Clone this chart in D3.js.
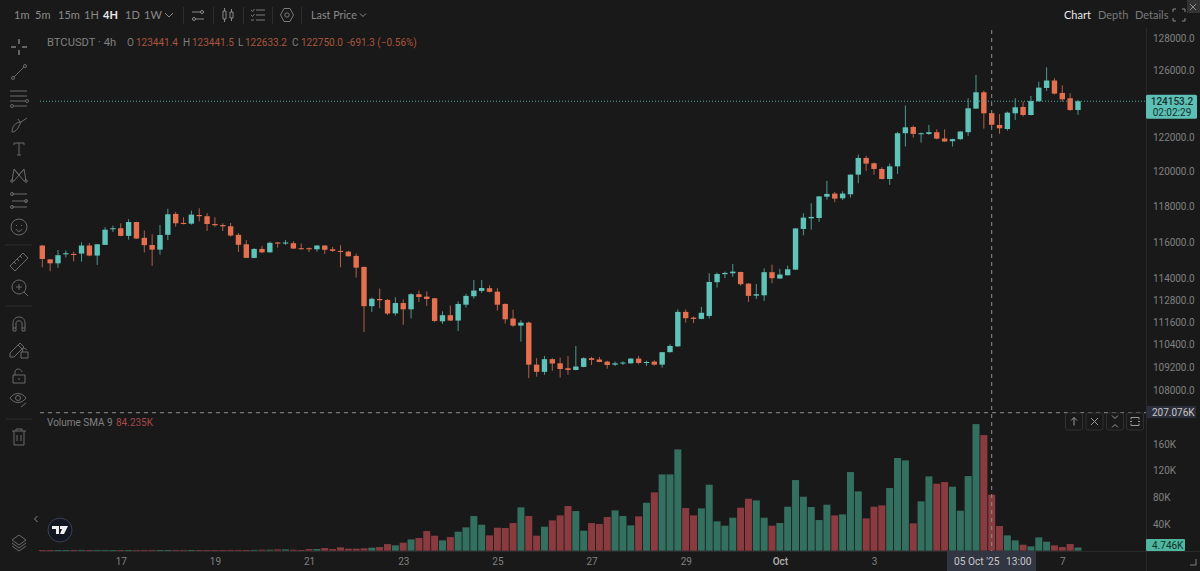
<!DOCTYPE html>
<html>
<head>
<meta charset="utf-8">
<script src="https://cdnjs.cloudflare.com/ajax/libs/d3/7.8.5/d3.min.js"></script>
<style>
  html, body { margin: 0; padding: 0; background: #191919; overflow: hidden; }
  svg { display: block; font-family: Roboto, sans-serif; }
</style>
</head>
<body>
<div id="chart"></div>
<script>
// 4h candles, one per index
var opens = [115800,115030,114810,115310,115330,115350,115800,115240,115835,116710,116770,116340,117120,116230,115830,115570,116400,117580,117070,117030,117520,117450,117010,116950,116880,116400,115870,115110,115610,115420,115970,115910,115930,115650,115650,115590,115800,115590,115500,115460,115220,114610,112460,112850,112800,112070,112630,112290,113110,112980,112890,111640,111970,111680,112540,113000,113290,113440,113250,112580,111790,111410,111570,109330,108950,109620,109400,109140,109050,109210,109670,109600,109490,109330,109390,109400,109650,109420,109490,109330,109990,110300,112150,111840,111770,111930,113770,114210,114260,114330,113690,113030,113050,114320,113970,114150,114460,116730,117330,117350,118560,118740,118470,118700,119830,120800,120490,120160,119580,120310,122250,122620,122190,122210,122310,121940,121780,121900,122310,123710,124690,123441.4,122740,122500,123430,123810,123330,124150,124950,125400,124650,124330,123630];
var highs = [115830,115050,115550,115520,115460,115980,115930,115880,116830,116920,117050,117280,117140,116640,116430,116960,117870,117690,117390,117770,117900,117620,117390,117050,117070,116490,116100,115650,115780,116020,116000,116110,116040,115910,115690,115820,115820,115720,115820,115500,115350,114630,112930,113420,112850,112940,112830,113160,113310,113270,112910,112180,112490,112720,113130,113890,113890,113600,113440,112610,112270,111700,111630,109670,109790,109670,109700,109790,110320,109720,109740,109740,109540,109490,109510,109670,109790,109540,109560,110000,110410,112290,112290,111900,112420,114260,114300,114350,114770,114350,113710,113670,114530,114740,114500,114680,116770,117620,118190,118600,119470,118830,118870,119850,121000,120920,120530,120260,120470,122320,123890,122700,122290,122740,122480,122480,121930,122370,124330,125740,124790,123441.5,123390,123530,124330,124130,124470,125330,126200,125540,125110,124630,124230];
var lows = [114590,114370,114560,115140,114920,114900,115200,114720,115830,116560,116320,116130,116170,115420,114670,115290,116100,116860,116990,116970,117160,116620,116860,116620,116300,115440,115100,115090,115370,115400,115680,115830,115610,115570,115440,115460,115330,115440,114590,115180,114020,111070,112150,112340,111980,111950,111450,111800,112690,112470,111590,111500,111660,111120,112380,112870,113180,113200,112220,111520,111340,110550,108620,108700,108800,109000,108650,108800,109030,109190,109310,109460,109120,109260,109310,109380,109350,109260,109280,109170,109970,110270,111570,111540,111750,111800,113470,113990,114060,113580,112690,112850,112740,113710,113960,114130,114440,116370,116690,117130,118390,118240,118370,118510,119330,120050,119830,119560,119240,119870,121470,121990,121700,122150,121890,121740,121470,121860,122090,123700,122520,122633.2,122210,122400,123040,123240,123310,124130,124770,124550,124130,123570,123340];
var closes = [115050,114810,115260,115370,115270,115800,115240,115870,116690,116770,116340,117120,116190,115820,115570,116390,117560,117050,117010,117540,117450,117010,116940,116880,116360,115840,115110,115610,115420,115950,115910,115970,115630,115610,115590,115800,115560,115500,115440,115200,114570,112460,112860,112780,112060,112630,112290,113110,112960,112850,111660,111970,111680,112580,113020,113310,113450,113240,112540,111750,111410,111570,109330,108950,109620,109390,109100,109050,109230,109670,109580,109470,109310,109400,109440,109650,109420,109470,109330,109990,110320,112150,111810,111770,112100,113780,114220,114280,114350,113660,113020,113110,114320,113990,114190,114480,116760,117370,117410,118580,118720,118450,118740,119830,120800,120470,120160,119580,120310,122250,122600,122210,122250,122310,121930,121760,121900,122350,123730,124690,123430,122750,122540,123470,123790,123330,124170,124970,125400,124610,124270,123630,124153.2];
// volume in thousands
var volumes = [1,1,1,0.8,1,1.2,1,1.2,1.2,1,1,0.8,1.2,1.2,1.2,1,1,1.2,1.2,1,1,1,1,1,1.2,1.2,1,1.2,1.5,1.5,2,2,1.5,0.8,2.5,2.5,4,2.5,5,3,3,3.5,4.5,5.5,10,8,12,17,19,29.5,22.5,15.5,20.5,28.5,35,52,39,23,34.5,34,41.5,65,52,22.5,36,45.5,53,67,59.5,30,41.5,40,50.5,60.5,52,38,51.5,72,87.5,114.5,114.5,152,64,53,63.5,99,44,37.5,49.5,64.5,78,75.5,49.5,37.5,41.5,66,106,81,65.5,46,69,53,54.5,118,89,48.5,66,68,94,139,135.5,41,74,111.5,100.5,103,96,60,112,190,173.5,84,37,23,15.5,9,6.5,20,13.5,8,5.5,10,4.746];

var priceTicks = [128000,126000,122000,120000,118000,116000,114000,112800,111600,110400,109200,108000];
var volumeTicks = [40,80,120,160];
var timeTickIndex = [10,22,34,46,58,70,82,94,106,130];
var timeTickLabels = ['17','19','21','23','25','27','29','Oct','3','7'];
var intervals = ['1m','5m','15m','1H','4H','1D','1W'];
var intervalX = [14,35,58,84,103,125,144];

var lastPrice = 124153.2, crossIndex = 121, crossVolume = 207.076;

var W = 1200, H = 571;
var UP = '#5fc3b9', DOWN = '#e4704f', UPVOL = '#34705f', DOWNVOL = '#8a3b40';
var GREY = '#808080', ICON = '#6a6a6a', MENU = 'Lato, sans-serif';

var svg = d3.select('#chart').append('svg').attr('width', W).attr('height', H);
svg.append('rect').attr('width', W).attr('height', H).attr('fill', '#191919');

// scales
var x = d3.scaleLinear().domain([0, 132]).range([42.3, 1078]);
var y = d3.scaleLog().domain([108000, 128000]).range([390, 38]);
var yVol = d3.scaleLinear().domain([0, crossVolume]).range([550.7, 412.7]);

var idx = d3.range(closes.length);

// volume pane
svg.append('g').selectAll('rect').data(idx).enter().append('rect')
  .attr('x', function (i) { return x(i) - 3.5; })
  .attr('width', 7)
  .attr('y', function (i) { return yVol(volumes[i]); })
  .attr('height', function (i) { return Math.max(0.8, yVol(0) - yVol(volumes[i])); })
  .attr('fill', function (i) { return closes[i] >= opens[i] ? UPVOL : DOWNVOL; });

// wicks then bodies
svg.append('g').selectAll('line').data(idx).enter().append('line')
  .attr('x1', function (i) { return x(i); })
  .attr('x2', function (i) { return x(i); })
  .attr('y1', function (i) { return y(highs[i]); })
  .attr('y2', function (i) { return y(lows[i]); })
  .attr('stroke', function (i) { return closes[i] >= opens[i] ? '#4b9a92' : '#b0604a'; })
  .attr('stroke-width', 1);

svg.append('g').selectAll('rect').data(idx).enter().append('rect')
  .attr('x', function (i) { return x(i) - 2.7; })
  .attr('width', 5.4)
  .attr('y', function (i) { return y(Math.max(opens[i], closes[i])); })
  .attr('height', function (i) { return Math.max(1, Math.abs(y(opens[i]) - y(closes[i]))); })
  .attr('fill', function (i) { return closes[i] >= opens[i] ? UP : DOWN; });

// frame lines
svg.append('line').attr('x1', 1146.5).attr('x2', 1146.5).attr('y1', 28).attr('y2', H).attr('stroke', '#2a2a2a');
svg.append('line').attr('x1', 40).attr('x2', W).attr('y1', 551.5).attr('y2', 551.5).attr('stroke', '#2a2a2a');

// last price and crosshair
svg.append('line').attr('x1', 40).attr('x2', 1146).attr('y1', y(lastPrice)).attr('y2', y(lastPrice))
  .attr('stroke', '#4fa69e').attr('stroke-dasharray', '1,2');
svg.append('line').attr('x1', x(crossIndex)).attr('x2', x(crossIndex)).attr('y1', 30).attr('y2', 551)
  .attr('stroke', '#8f8f8f').attr('stroke-dasharray', '4,4');
svg.append('line').attr('x1', 40).attr('x2', 1146).attr('y1', yVol(crossVolume)).attr('y2', yVol(crossVolume))
  .attr('stroke', '#8f8f8f').attr('stroke-dasharray', '4,4');

// axes
function styleAxis(g) {
  g.select('.domain').remove();
  g.selectAll('text').attr('fill', GREY).style('font-size', '10px').style('font-family', 'Roboto, sans-serif').style('letter-spacing', '-0.05px');
}
svg.append('g').attr('transform', 'translate(1147,0)')
  .call(d3.axisRight(y).tickValues(priceTicks).tickSize(0).tickPadding(6).tickFormat(function (d) { return d3.format('.1f')(d); }))
  .call(styleAxis);
svg.append('g').attr('transform', 'translate(1147,0)')
  .call(d3.axisRight(yVol).tickValues(volumeTicks).tickSize(0).tickPadding(6).tickFormat(function (d) { return d + 'K'; }))
  .call(styleAxis);
svg.append('g').attr('transform', 'translate(0,551)')
  .call(d3.axisBottom(x).tickValues(timeTickIndex).tickSize(0).tickPadding(7).tickFormat(function (d, i) { return timeTickLabels[i]; }))
  .call(styleAxis)
  .selectAll('text').filter(function (d, i) { return timeTickLabels[i] == 'Oct'; })
  .attr('fill', '#a8a8a8').style('font-weight', 600);

function txt(s, px, py, fill, size, weight, anchor, family) {
  return svg.append('text').attr('x', px).attr('y', py).attr('fill', fill)
    .style('font-size', (size || 10) + 'px').style('font-weight', weight || 400)
    .style('font-family', family || 'Roboto, sans-serif')
    .attr('text-anchor', anchor || 'start').text(s);
}

// price + volume flags
svg.append('rect').attr('x', 1146).attr('y', y(lastPrice) - 6.5).attr('width', 51).attr('height', 24).attr('rx', 1.5).attr('fill', '#5cc0b5');
txt('124153.2', 1172, y(lastPrice) + 3.5, '#14302d', 10, 500, 'middle');
txt('02:02:29', 1172, y(lastPrice) + 14.5, '#14302d', 10, 400, 'middle');
svg.append('rect').attr('x', 1147).attr('y', 406).attr('width', 49).attr('height', 12).attr('fill', '#2c2e3a');
txt('207.076K', 1152, 416, '#c8c8c8', 10);
svg.append('rect').attr('x', 1146).attr('y', 539).attr('width', 39).attr('height', 12).attr('rx', 1).attr('fill', '#4fb7a0');
txt('4.746K', 1152, 548.5, '#123029', 10);
svg.append('rect').attr('x', 947).attr('y', 551).attr('width', 89).attr('height', 20).attr('fill', '#323542');
txt("05 Oct '25", 954, 565, '#c8c8c8', 10.2);
txt('13:00', 1006, 565, '#c8c8c8', 10.2);

// legend lines
txt('BTCUSDT · 4h', 47, 45.5, GREY, 11.2);
var ohlcLabels = ['O', 'H', 'L', 'C'];
var ohlcValues = ['123441.4', '123441.5', '122633.2', '122750.0'];
var legendX = [127, 183, 238, 292];
var legendRed = '#a9543f';
ohlcLabels.forEach(function (l, i) {
  txt(l, legendX[i], 46, GREY, 10);
  txt(ohlcValues[i], legendX[i] + (l == 'L' ? 7 : 9), 46, legendRed, 10);
});
txt('-691.3 (−0.56%)', 347, 46, legendRed, 10);
txt('Volume SMA 9', 47, 426, GREY, 10);
txt('84.235K', 116, 426, '#a9474a', 10);

// top toolbar
intervals.forEach(function (s, i) {
  txt(s, intervalX[i], 19, s == '4H' ? '#e8e8e8' : '#8a8a8a', 11, s == '4H' ? 700 : 400, 'start', MENU);
});
txt('Last Price', 311, 19, '#8a8a8a', 10.8, 400, 'start', MENU);
txt('Chart', 1064, 19, '#e8e8e8', 11, 400, 'start', MENU);
txt('Depth', 1098, 19, '#7a7a7a', 11, 400, 'start', MENU);
txt('Details', 1135, 19, '#7a7a7a', 11, 400, 'start', MENU);
[183.5, 213.5, 243.5, 272.5, 301.5].forEach(function (sx) {
  svg.append('line').attr('x1', sx).attr('x2', sx).attr('y1', 7).attr('y2', 24).attr('stroke', '#2f2f2f');
});

// hand drawn icons, centred on their own 0,0
function icon(cx, cy, d, col) {
  svg.append('path').attr('transform', 'translate(' + cx + ',' + cy + ')').attr('d', d)
    .attr('fill', 'none').attr('stroke', col || ICON).attr('stroke-width', 1);
}
function circ(r, cx, cy) {
  cx = cx || 0; cy = cy || 0;
  return 'M' + (cx - r) + ',' + cy + 'a' + r + ',' + r + ' 0 1,0 ' + (2 * r) + ',0a' + r + ',' + r + ' 0 1,0 ' + (-2 * r) + ',0';
}
icon(169, 15, 'M-4,-2L0,2L4,-2', '#8a8a8a');
icon(363, 15, 'M-3,-1.5L0,1.5L3,-1.5', '#8a8a8a');
icon(198, 15, 'M-6,-3H3M5,-3H6M-3,4H6M-6,4H-5' + circ(1.5, 4, -3) + circ(1.5, -4, 4), '#8a8a8a');
icon(228, 15, 'M-5,-4h3v8h-3zM-3.5,-7v3M-3.5,4v3M2,-3h3v6h-3zM3.5,-6v3M3.5,3v3', '#8a8a8a');
icon(258, 15, 'M-2,-5H7M-2,0H7M-2,5H7M-7,-5l1.5,1.5l2,-2.5M-7,0l1.5,1.5l2,-2.5M-7,5h3', '#7a7a7a');
icon(287, 15, 'M-3,-6.5L3,-6.5L6.5,0L3,6.5L-3,6.5L-6.5,0Z' + circ(2.2), '#7a7a7a');
icon(1179, 15, 'M-6,-3v-3h3M3,-6h3v3M6,3v3h-3M-3,6h-3v-3', '#8a8a8a');

// close box in the corner
svg.append('rect').attr('x', 1187).attr('y', 0).attr('width', 13).attr('height', 13).attr('fill', '#333333');
icon(1193, 7, 'M-3,-3L3,3M3,-3L-3,3', '#8a8a8a');

// left drawing tools
icon(19, 47, 'M-8,0H-3M3,0H8M0,-8V-3M0,3V8', '#b0b0b0');
icon(19, 72, 'M-5,5L5,-5' + circ(1.5, -6, 6) + circ(1.5, 6, -6));
icon(19, 98, 'M-9,-7H8M-9,-2H8M-9,3H6M-5,8H8' + circ(1.5, 8, 3) + circ(1.5, -7, 8));
icon(19, 125, 'M-7,7C-7,1 -3,-3 2,-3L-1,3C-3,6 -5,7 -7,7ZM2,-3L8,-7M-1,-6L1,-3');
icon(19, 149, 'M-5,-6H5M-5,-6V-4M5,-6V-4M0,-6V6M-2,6H2');
icon(19, 175, 'M-7,6L-5,-6L0,0L5,-6L7,6M-5,-6L5,6M5,-6L-5,6' + circ(1.3, -7, 6) + circ(1.3, 7, 6));
icon(19, 201, 'M-7,-7H8M-7,0H8M-7,6H8' + circ(1.5, -7, -7) + circ(1.5, 7, 0) + circ(1.5, -7, 6));
icon(19, 227, circ(8) + 'M-3,2C-2,5 2,5 3,2M-2.5,-2V-1M2.5,-2V-1');
svg.append('line').attr('x1', 5).attr('x2', 32).attr('y1', 245).attr('y2', 245).attr('stroke', '#2f2f2f');
icon(19, 262, 'M-9,4L4,-9L9,-4L-4,9ZM-5,0L-3,2M-2,-3L0,-1M1,-6L3,-4');
icon(19, 287, circ(7) + 'M-3,0H3M0,-3V3M5,5L9,9');
svg.append('line').attr('x1', 6).attr('x2', 32).attr('y1', 306).attr('y2', 306).attr('stroke', '#2f2f2f');
icon(19, 324, 'M-6,7V-1C-6,-9 6,-9 6,-1V7H3V-1C3,-4 -3,-4 -3,-1V7ZM-6,4H-3M3,4H6');
icon(17, 350, 'M-7,7V3L3,-7L7,-3L-3,7ZM1,-5L5,-1M4,2h7v6h-7zM5.5,2V0C5.5,-2 9.5,-2 9.5,0');
icon(19, 376, 'M-6,-1H6V7H-6ZM-4,-1V-4C-4,-8 2,-8 3,-4M0,2V4');
icon(18, 398, 'M-8,0C-4,-6 4,-6 8,0C4,6 -4,6 -8,0Z' + circ(2.5) + 'M3,9L8,5');
svg.append('line').attr('x1', 6).attr('x2', 32).attr('y1', 419).attr('y2', 419).attr('stroke', '#2f2f2f');
icon(19, 437, 'M-7,-6H7M-3,-6V-8H3V-6M-5,-6V8H5V-6M-2,-2V4M2,-2V4');
icon(36, 519, 'M1.5,-3L-1.5,0L1.5,3', '#8a8a8a');
icon(19, 542, 'M0,-7L7,-2L0,3L-7,-2ZM-7,1L0,6L7,1M-7,4L0,9L7,4');

// tradingview badge
svg.append('circle').attr('cx', 60).attr('cy', 530).attr('r', 12).attr('fill', '#131722').attr('stroke', '#3c4050');
svg.append('path').attr('transform', 'translate(60,530)')
  .attr('d', 'M-8,-4H-1V4H-4V-1H-8ZM3,-4H8L4,4H0L2,-1H0V-4Z').attr('fill', '#f0f0f0');

// pane buttons
var btnX = [1074, 1094.5, 1115, 1135];
btnX.forEach(function (bx) {
  svg.append('rect').attr('x', bx - 8.5).attr('y', 413).attr('width', 17).attr('height', 17).attr('rx', 2)
    .attr('fill', '#191919').attr('stroke', '#303030');
});
icon(btnX[0], 421.5, 'M0,4V-4M-3,-1L0,-4L3,-1', '#9a9a9a');
icon(btnX[1], 421.5, 'M-3.5,-3.5L3.5,3.5M3.5,-3.5L-3.5,3.5', '#9a9a9a');
icon(btnX[2], 421.5, 'M-3,-6L0,-3L3,-6M-3,6L0,3L3,6', '#9a9a9a');
icon(btnX[3], 421.5, 'M-4,-2V-4H4V-2M-4,2V4H4V2M-5,0H-3M3,0H5', '#9a9a9a');

// resize corner
icon(1193, 562, 'M-3,3H3V-3', '#808080');
</script>
</body>
</html>
